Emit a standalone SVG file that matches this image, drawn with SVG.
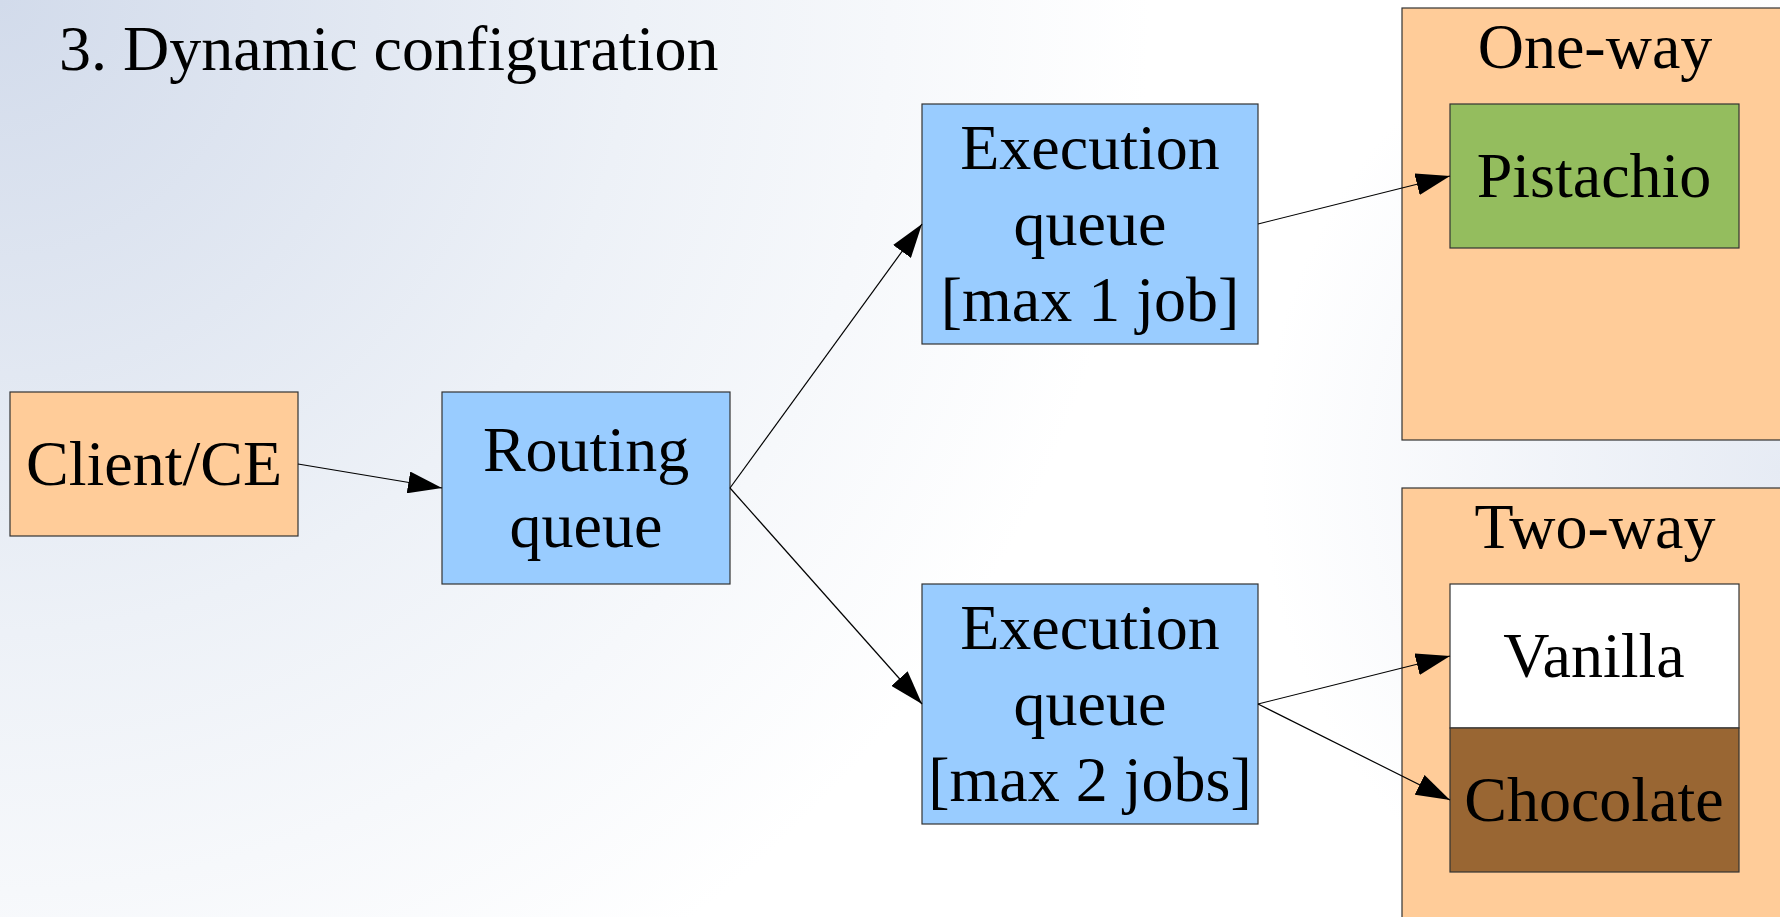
<svg xmlns="http://www.w3.org/2000/svg" width="1780" height="917" viewBox="0 0 1780 917">
  <defs>
    <radialGradient id="bgCorner" cx="0" cy="0" r="1150" gradientUnits="userSpaceOnUse">
      <stop offset="0" stop-color="#d2dbeb"/>
      <stop offset="0.55" stop-color="#edf1f7"/>
      <stop offset="1" stop-color="#ffffff"/>
    </radialGradient>
    <radialGradient id="bgRight" cx="1780" cy="470" r="520" gradientUnits="userSpaceOnUse">
      <stop offset="0" stop-color="#e6ebf4" stop-opacity="1"/>
      <stop offset="1" stop-color="#e6ebf4" stop-opacity="0"/>
    </radialGradient>
    <marker id="arrow" markerWidth="34" markerHeight="22" refX="34" refY="11" orient="auto" markerUnits="userSpaceOnUse">
      <path d="M0,0 L34,11 L0,22 Z" fill="#000"/>
    </marker>
    <style>
      .box { stroke: #333333; stroke-width: 1.2; }
      .orange { fill: #ffcc99; }
      .blue { fill: #99ccff; }
      .green { fill: #94bd5e; }
      .white { fill: #ffffff; }
      .brown { fill: #996633; }
      .label { font-family: "Liberation Serif", "Times New Roman", serif; font-size: 64px; fill: #000; text-anchor: middle; }
      .title { font-family: "Liberation Serif", "Times New Roman", serif; font-size: 64px; fill: #000; }
      .edge { stroke: #000; stroke-width: 1.2; fill: none; marker-end: url(#arrow); }
    </style>
  </defs>

  <!-- background -->
  <rect x="0" y="0" width="1780" height="917" fill="url(#bgCorner)"/>
  <rect x="0" y="0" width="1780" height="917" fill="url(#bgRight)"/>

  <text class="title" x="59" y="70">3. Dynamic configuration</text>

  <!-- containers -->
  <g id="one-way">
    <rect class="box orange" x="1402" y="8" width="390" height="432"/>
    <text class="label" x="1595" y="68">One-way</text>
  </g>
  <g id="two-way">
    <rect class="box orange" x="1402" y="488" width="390" height="440"/>
    <text class="label" x="1595" y="548">Two-way</text>
  </g>

  <!-- nodes -->
  <g id="client">
    <rect class="box orange" x="10" y="392" width="288" height="144"/>
    <text class="label" x="154" y="485">Client/CE</text>
  </g>
  <g id="routing">
    <rect class="box blue" x="442" y="392" width="288" height="192"/>
    <text class="label" x="586" y="471">Routing</text>
    <text class="label" x="586" y="547">queue</text>
  </g>
  <g id="exec1">
    <rect class="box blue" x="922" y="104" width="336" height="240"/>
    <text class="label" x="1090" y="169">Execution</text>
    <text class="label" x="1090" y="245">queue</text>
    <text class="label" x="1090" y="321">[max 1 job]</text>
  </g>
  <g id="exec2">
    <rect class="box blue" x="922" y="584" width="336" height="240"/>
    <text class="label" x="1090" y="649">Execution</text>
    <text class="label" x="1090" y="725">queue</text>
    <text class="label" x="1090" y="801">[max 2 jobs]</text>
  </g>
  <g id="pistachio">
    <rect class="box green" x="1450" y="104" width="289" height="144"/>
    <text class="label" x="1594" y="197">Pistachio</text>
  </g>
  <g id="vanilla">
    <rect class="box white" x="1450" y="584" width="289" height="144"/>
    <text class="label" x="1594" y="677">Vanilla</text>
  </g>
  <g id="chocolate">
    <rect class="box brown" x="1450" y="728" width="289" height="144"/>
    <text class="label" x="1594" y="821">Chocolate</text>
  </g>

  <!-- connectors -->
  <g id="connectors">
    <line class="edge" x1="298" y1="464" x2="442" y2="488"/>
    <line class="edge" x1="730" y1="488" x2="922" y2="224"/>
    <line class="edge" x1="730" y1="488" x2="922" y2="704"/>
    <line class="edge" x1="1258" y1="224" x2="1450" y2="176"/>
    <line class="edge" x1="1258" y1="704" x2="1450" y2="656"/>
    <line class="edge" x1="1258" y1="704" x2="1450" y2="800"/>
  </g>
</svg>
